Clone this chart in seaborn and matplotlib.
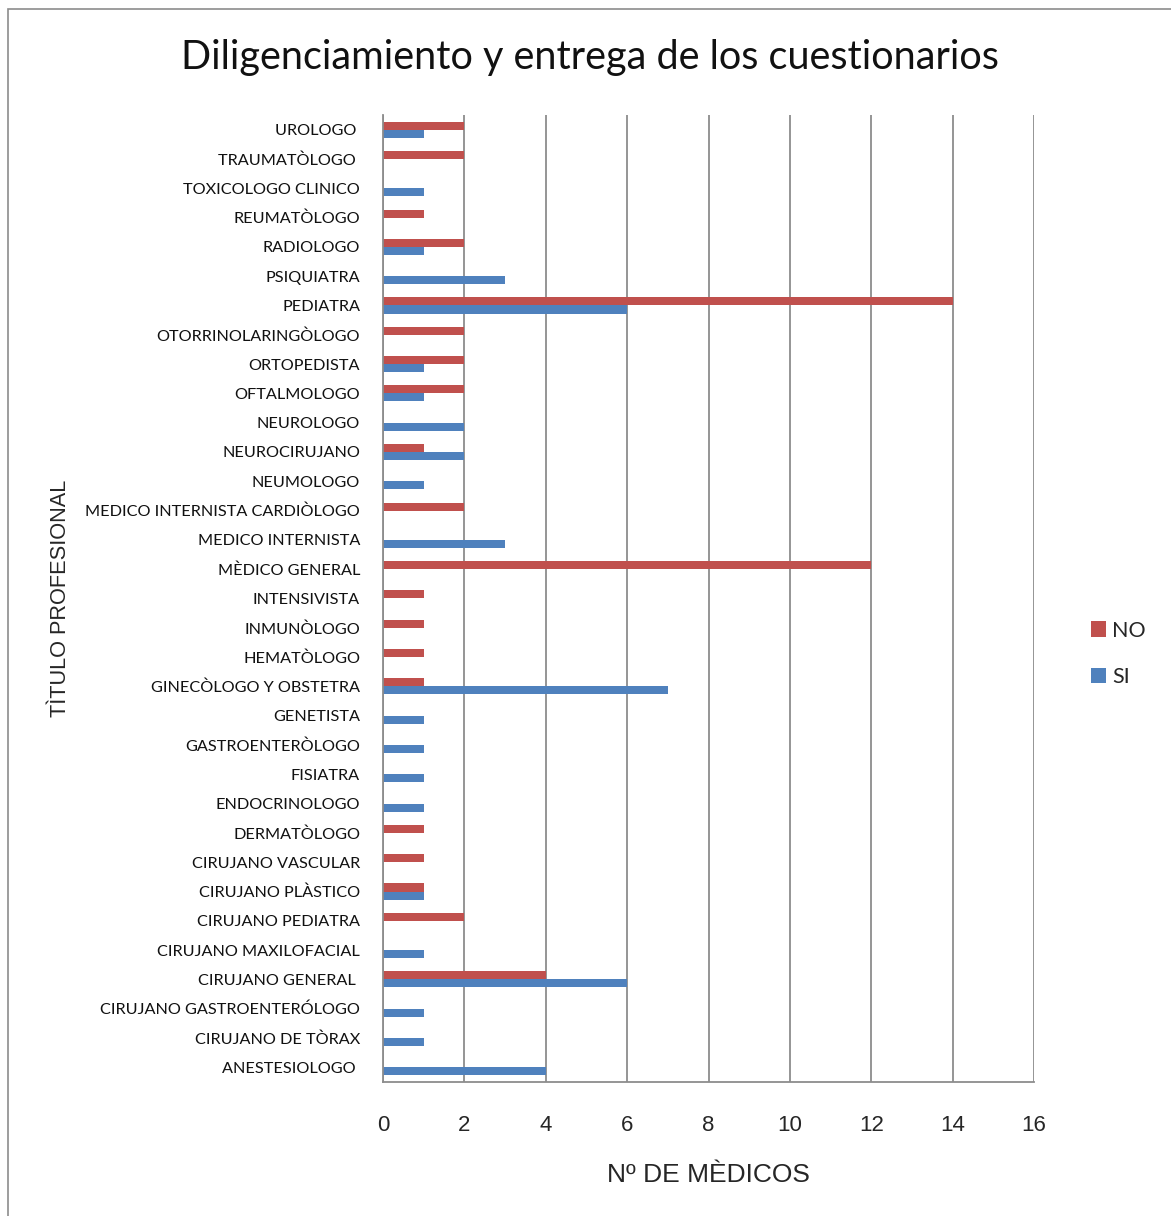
import pandas as pd
import matplotlib.pyplot as plt
import matplotlib.patches as mpatches
import seaborn as sns

# -------------------- DATA --------------------
titulos = [
    "UROLOGO ", "TRAUMATÒLOGO ", "TOXICOLOGO CLINICO", "REUMATÒLOGO",
    "RADIOLOGO", "PSIQUIATRA", "PEDIATRA", "OTORRINOLARINGÒLOGO",
    "ORTOPEDISTA", "OFTALMOLOGO", "NEUROLOGO", "NEUROCIRUJANO",
    "NEUMOLOGO", "MEDICO INTERNISTA CARDIÒLOGO", "MEDICO INTERNISTA",
    "MÈDICO GENERAL", "INTENSIVISTA", "INMUNÒLOGO", "HEMATÒLOGO",
    "GINECÒLOGO Y OBSTETRA", "GENETISTA", "GASTROENTERÒLOGO", "FISIATRA",
    "ENDOCRINOLOGO", "DERMATÒLOGO", "CIRUJANO VASCULAR", "CIRUJANO PLÀSTICO",
    "CIRUJANO PEDIATRA", "CIRUJANO MAXILOFACIAL", "CIRUJANO GENERAL ",
    "CIRUJANO GASTROENTERÓLOGO", "CIRUJANO DE TÒRAX", "ANESTESIOLOGO ",
]
no_vals = [2, 2, 0, 1, 2, 0, 14, 2, 2, 2, 0, 1, 0, 2, 0, 12, 1, 1, 1, 1,
           0, 0, 0, 0, 1, 1, 1, 2, 0, 4, 0, 0, 0]
si_vals = [1, 0, 1, 0, 1, 3, 6, 0, 1, 1, 2, 2, 1, 0, 3, 0, 0, 0, 0, 7,
           1, 1, 1, 1, 0, 0, 1, 0, 1, 6, 1, 1, 4]
series = ["NO", "SI"]
colors = {"NO": "#C0504D", "SI": "#4F81BD"}
x_ticks = [0, 2, 4, 6, 8, 10, 12, 14, 16]
# ----------------------------------------------

df = pd.DataFrame({
    "titulo": titulos * 2,
    "valor": no_vals + si_vals,
    "resp": ["NO"] * len(titulos) + ["SI"] * len(titulos),
})

sns.set_style("white")
plt.rcParams['font.family'] = ['Lato', 'DejaVu Sans']

fig = plt.figure(figsize=(11.71, 12.16), dpi=100)
ax = fig.add_axes([383 / 1171, 1 - 1082 / 1216, (1034 - 383) / 1171, (1082 - 115) / 1216])

sns.barplot(data=df, x="valor", y="titulo", hue="resp", order=titulos,
            hue_order=series, palette=colors, width=0.55, orient="h",
            saturation=1, linewidth=0, errorbar=None, ax=ax)

ax.set_xlim(0, 16)
ax.set_ylim(len(titulos) - 0.5, -0.5)
ax.set_xticks(x_ticks)
ax.set_xticklabels([str(t) for t in x_ticks], family=['Liberation Sans Narrow', 'Liberation Sans'],
                   fontsize=16)
ax.tick_params(axis='x', length=7, width=1.2, color='#8c8c8c', direction='out', pad=17)
ax.tick_params(axis='y', length=0, pad=16.5, labelsize=11.7, labelcolor='#111111')
ax.set_xlabel("")
ax.set_ylabel("")
ax.grid(axis='x', color='#8c8c8c', linewidth=1.3)
ax.set_axisbelow(True)
for s in ['top', 'right']:
    ax.spines[s].set_visible(False)
for s in ['left', 'bottom']:
    ax.spines[s].set_color('#8c8c8c')
    ax.spines[s].set_linewidth(1.3)

handles, labels = ax.get_legend_handles_labels()
ax.get_legend().remove()
fig.legend(handles, labels, loc='center left', bbox_to_anchor=(1080 / 1171, 1 - 654 / 1216),
           frameon=False, fontsize=15.5, handlelength=0.7, handleheight=0.7,
           handletextpad=0.3, labelspacing=1.25, borderpad=0)

fig.text(0.504, 1 - 58 / 1216, "Diligenciamiento y entrega de los cuestionarios",
         ha='center', va='center', fontsize=28.5, color='#111111')
fig.text(708 / 1171, 1 - 1175 / 1216, "Nº DE MÈDICOS", ha='center', va='center',
         fontsize=19, family=['Liberation Sans Narrow', 'Liberation Sans'])
fig.text(60 / 1171, 1 - 598 / 1216, "TÌTULO PROFESIONAL", ha='center', va='center',
         rotation=90, fontsize=15.7, family=['Liberation Sans', 'DejaVu Sans'])

frame = mpatches.Rectangle((8 / 1171, -0.01), 1.1, 1 - 9 / 1216 + 0.01, transform=fig.transFigure,
                           fill=False, edgecolor='#8c8c8c', linewidth=1.2)
fig.patches.append(frame)

fig.savefig("out.png", dpi=100)
